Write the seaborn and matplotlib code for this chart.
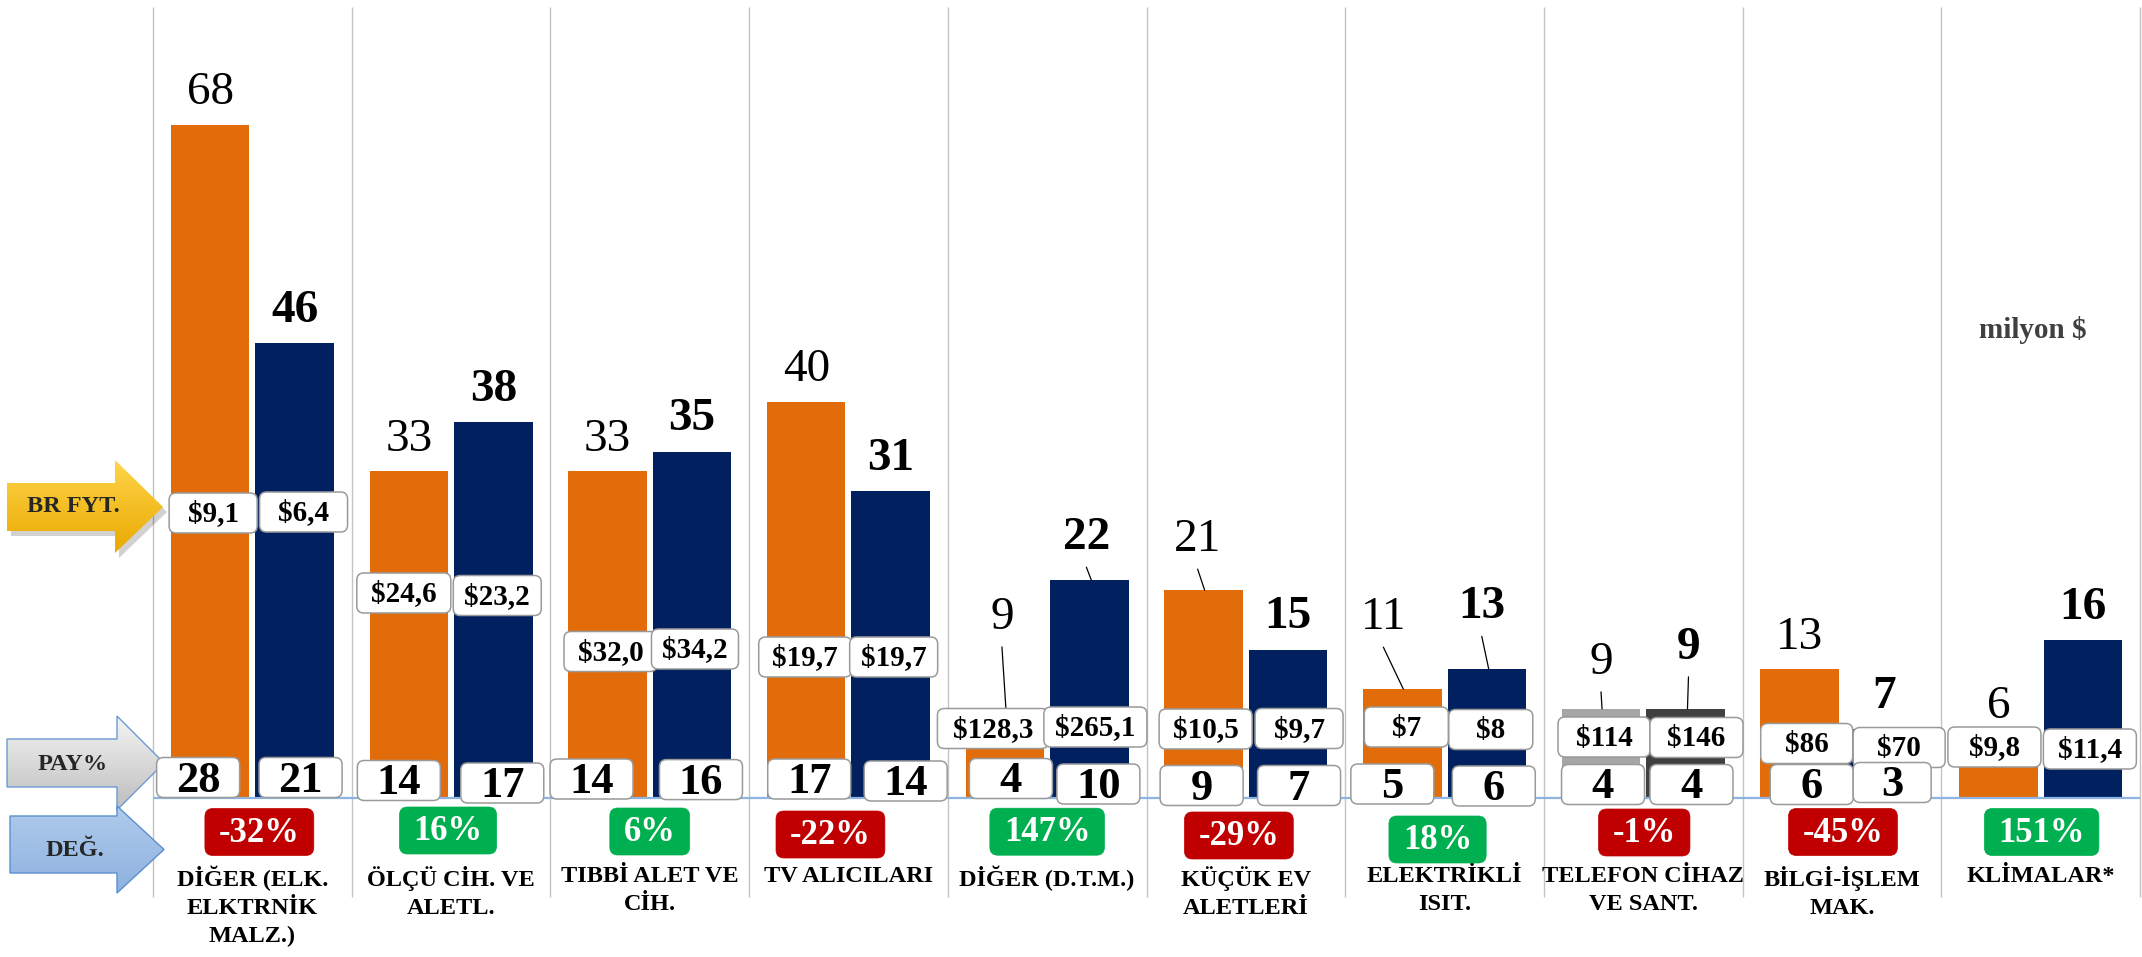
import numpy as np
import pandas as pd
import matplotlib
matplotlib.use("Agg")
import matplotlib.pyplot as plt
import seaborn as sns
from matplotlib.patches import FancyBboxPatch, Polygon
from matplotlib.colors import to_rgb

# ---------------- data ----------------
categories = ["DİĞER (ELK.\nELKTRNİK\nMALZ.)", "ÖLÇÜ CİH. VE\nALETL.", "TIBBİ ALET VE\nCİH.",
              "TV ALICILARI", "DİĞER (D.T.M.)", "KÜÇÜK EV\nALETLERİ", "ELEKTRİKLİ\nISIT.",
              "TELEFON CİHAZ\nVE SANT.", "BİLGİ-İŞLEM\nMAK.", "KLİMALAR*"]
series = ["Dönem 1", "Dönem 2"]
values_1 = [68, 33, 33, 40, 9, 21, 11, 9, 13, 6]
values_2 = [46, 38, 35, 31, 22, 15, 13, 9, 7, 16]
price_1 = ["$9,1", "$24,6", "$32,0", "$19,7", "$128,3", "$10,5", "$7", "$114", "$86", "$9,8"]
price_2 = ["$6,4", "$23,2", "$34,2", "$19,7", "$265,1", "$9,7", "$8", "$146", "$70", "$11,4"]
share_1 = [28, 14, 14, 17, 4, 9, 5, 4, 6, None]
share_2 = [21, 17, 16, 14, 10, 7, 6, 4, 3, None]
change = ["-32%", "16%", "6%", "-22%", "147%", "-29%", "18%", "-1%", "-45%", "151%"]
unit_note = "milyon $"
arrow_labels = ["BR FYT.", "PAY%", "DEĞ."]

# ---------------- style / layout (pixels) ----------------
ORANGE, NAVY = "#E36C0A", "#002060"
GRAY_L, GRAY_D = "#A6A6A6", "#404040"
RED, GREEN = "#C00000", "#00B050"
W, H = 2142, 957
X_LEFT, CAT_W, BASE, SCALE = 153, 198.7, 798, 9.9

label_lift_1 = [32, 32, 32, 32, 91, 50, 71, 46, 32, 32]
label_lift_2 = [32, 32, 32, 32, 42, 32, 62, 61, 32, 32]
label_dx_1 = [0, 0, 0, 0, -3, -6, -19, 0, 0, 0]
label_dx_2 = [0, 0, 0, 0, -3, 0, -5, 3, 0, 0]
leader_1 = [0, 0, 0, 0, 1, 1, 1, 1, 0, 0]
leader_2 = [0, 0, 0, 0, 1, 0, 1, 1, 0, 0]

price_y_1 = [513, 593, 651.5, 657, 728.5, 729, 727, 737, 743.5, 747]
price_y_2 = [512, 595.5, 649, 657, 727, 728.5, 729.5, 737.5, 747.5, 749]
price_dx_1 = [3, -5, 3, -1, -12, 2, 4, 3, 7, -4]
price_dx_2 = [9, 4, 3, 3, 6, 11, 4, 11, 15, 7]
price_w_1 = [88, 94, 93, 93, 111, 93, 84, 92, 92, 93]
price_w_2 = [88, 88, 87, 88, 103, 88, 84, 93, 92, 93]

share_y_1 = [777.5, 780.5, 779, 779, 778.5, 785.5, 784, 784.5, 784.5, 0]
share_y_2 = [777.5, 783, 779.6, 781, 784, 785.5, 786, 784.5, 782.5, 0]
share_dx_1 = [-12, -10, -16, 3, 6, -2, -10, 2, 12, 0]
share_dx_2 = [6, 9, 9, 15, 9, 11, 7, 6, 8, 0]
share_w_2 = [83, 83, 83, 83, 83, 83, 83, 83, 78, 83]

change_y = [832, 830.5, 831.5, 834.5, 831.7, 835.5, 839.5, 832.5, 832, 832]
change_dx = [7, -3, 0, -18, 0, -7, -7, 1, 1, 1]

sns.set_style("white")
plt.rcParams['font.family'] = ['Liberation Serif', 'DejaVu Serif']

fig = plt.figure(figsize=(W / 100, H / 100), dpi=100)
ax = fig.add_axes([0, 0, 1, 1])

df = pd.DataFrame({
    "Kategori": categories * 2,
    "Dönem": [series[0]] * len(categories) + [series[1]] * len(categories),
    "Değer": values_1 + values_2,
})
sns.barplot(data=df, x="Kategori", y="Değer", hue="Dönem", palette=[ORANGE, NAVY],
            width=0.85, gap=0.07, saturation=1, legend=False, errorbar=None, ax=ax,
            zorder=2, linewidth=0)

x0 = -0.5 - X_LEFT / CAT_W
x1 = -0.5 + (W - X_LEFT) / CAT_W
ax.set_xlim(x0, x1)
ax.set_ylim((BASE - H) / SCALE, BASE / SCALE)
ax.axis("off")

def px_x(xd):
    return ax.transData.transform((xd, 0))[0]

def px_y(yd):
    return H - ax.transData.transform((0, yd))[1]

def d_y(py):
    return ax.transData.inverted().transform((0, H - py))[1]

# gridlines & baseline on the bar axes
n = len(categories)
ax.vlines([k - 0.5 for k in range(n + 1)], d_y(897), d_y(7), colors="#C3C3C3", lw=1.0, zorder=1)
ax.hlines(0, -0.5, n - 0.5, colors="#8DB4E2", lw=1.6, zorder=3)

bars = {}
for p in ax.patches:
    w = p.get_width()
    if w == 0:
        continue
    cx = p.get_x() + w / 2
    k = int(round(cx))
    s = 0 if cx < k else 1
    bars[(k, s)] = p
bars[(7, 0)].set_facecolor(GRAY_L)
bars[(7, 1)].set_facecolor(GRAY_D)

# overlay axes in pixel units for annotations
ax2 = fig.add_axes([0, 0, 1, 1], facecolor="none")
ax2.set_xlim(0, W)
ax2.set_ylim(H, 0)
ax2.axis("off")

def rbox(cx, cy, w, h, fc, ec, lw, r, z):
    p = FancyBboxPatch((cx - w / 2, cy - h / 2), w, h,
                       boxstyle=f"round,pad=0,rounding_size={r}",
                       fc=fc, ec=ec, lw=lw, zorder=z)
    ax2.add_patch(p)
    return p

renderer = fig.canvas.get_renderer()

vals = [values_1, values_2]
lifts = [label_lift_1, label_lift_2]
ldx = [label_dx_1, label_dx_2]
leaders = [leader_1, leader_2]
prices = [price_1, price_2]
pys = [price_y_1, price_y_2]
pdx = [price_dx_1, price_dx_2]
pws = [price_w_1, price_w_2]
shares = [share_1, share_2]
sys_ = [share_y_1, share_y_2]
sdx = [share_dx_1, share_dx_2]

for k in range(n):
    for s in range(2):
        p = bars[(k, s)]
        bx = px_x(p.get_x() + p.get_width() / 2)
        btop = px_y(p.get_height())
        lx = bx + ldx[s][k]
        ly = btop - lifts[s][k]
        ax2.text(lx, ly, f"{vals[s][k]}", ha="center", va="center", fontsize=34,
                 fontweight="bold" if s == 1 else "normal", color="black", zorder=6)
        if leaders[s][k]:
            ax2.plot([lx, bx + (1 if s == 0 else 2)], [ly + 29, btop], color="black", lw=0.9, zorder=6)
        # unit price boxes
        z = 7 + 0.5 * s + 0.2 * k
        cx, cy = bx + pdx[s][k], pys[s][k]
        rbox(cx, cy, pws[s][k], 40, "white", "#9A9A9A", 1.1, 7, z)
        ax2.text(cx, cy + 1, prices[s][k], ha="center", va="center", fontsize=21,
                 fontweight="bold", color="black", zorder=z + 0.01)
        # share boxes
        if shares[s][k] is not None:
            z2 = 12 + 0.5 * s + 0.2 * k
            cx, cy = bx + sdx[s][k], sys_[s][k]
            wbox = share_w_2[k] if s == 1 else 83
            rbox(cx, cy, wbox, 40, "white", "#9A9A9A", 1.1, 7, z2)
            ax2.text(cx, cy + 3, f"{shares[s][k]}", ha="center", va="center", fontsize=32,
                     fontweight="bold", color="black", zorder=z2 + 0.01)
    # change box
    ccx = px_x(k) + change_dx[k]
    ccy = change_y[k]
    col = RED if change[k].startswith("-") else GREEN
    t = ax2.text(ccx, ccy + 1, change[k], ha="center", va="center", fontsize=25,
                 fontweight="bold", color="white", zorder=21)
    tw = t.get_window_extent(renderer=renderer).width
    rbox(ccx, ccy, tw + 28, 47, col, col, 0.5, 8, 20)
    # category label
    ax2.text(px_x(k), 866, categories[k], ha="center", va="top", fontsize=17.5,
             fontweight="bold", color="black", linespacing=1.42, multialignment="center", zorder=5)

ax2.text(2033, 330, unit_note, ha="center", va="center", fontsize=21, fontweight="bold",
         color="#404040", zorder=5)

# ---------------- left arrows ----------------
def grad_arrow(verts, top_col, bot_col, edge, lw, z, shadow=False):
    ys = [v[1] for v in verts]
    xs = [v[0] for v in verts]
    if shadow:
        sh = Polygon([(x + 4, y + 5) for x, y in verts], closed=True, fc="#000000", ec="none",
                     alpha=0.18, zorder=z - 0.5)
        ax2.add_patch(sh)
    c0, c1 = np.array(to_rgb(top_col)), np.array(to_rgb(bot_col))
    tt = np.linspace(0, 1, 200)[:, None]
    img = (c0 * (1 - tt) + c1 * tt)[:, None, :]
    im = ax2.imshow(img, extent=(min(xs), max(xs), max(ys), min(ys)), origin="upper",
                    aspect="auto", zorder=z, interpolation="bilinear")
    poly = Polygon(verts, closed=True, fc="none", ec=edge if edge else "none", lw=lw, zorder=z + 0.1)
    ax2.add_patch(poly)
    im.set_clip_path(poly)

arrow1 = [(7, 483), (115, 483), (115, 460), (163, 507), (115, 553), (115, 531), (7, 531)]
arrow2 = [(7, 739), (117, 739), (117, 716), (164, 763), (117, 810), (117, 787), (7, 787)]
arrow3 = [(10, 816), (117, 816), (117, 806), (164, 849.5), (117, 893), (117, 873), (10, 873)]
grad_arrow(arrow1, "#FFD54A", "#E9A900", None, 0, 2, shadow=True)
grad_arrow(arrow2, "#F5F5F5", "#BDBDBD", "#6A9BD3", 1.0, 3)
grad_arrow(arrow3, "#B0CBEC", "#8DB1DF", "#5B8FD0", 1.0, 4)
ax2.text(73, 507, arrow_labels[0], ha="center", va="center", fontsize=17.5, fontweight="bold", zorder=5)
ax2.text(73, 765, arrow_labels[1], ha="center", va="center", fontsize=17.5, fontweight="bold", zorder=5)
ax2.text(75, 850, arrow_labels[2], ha="center", va="center", fontsize=17.5, fontweight="bold", zorder=5)

ax2.set_xlim(0, W)
ax2.set_ylim(H, 0)

fig.savefig("out.png", dpi=100, facecolor="white")
